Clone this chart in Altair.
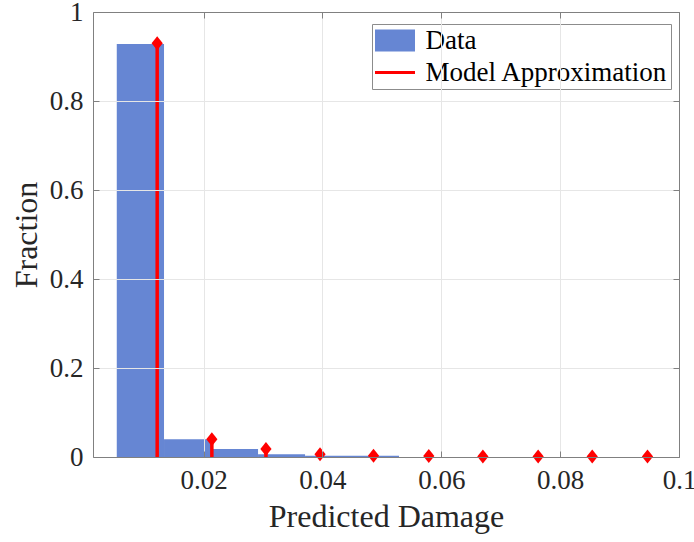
import altair as alt
import pandas as pd

# ---- data ----
bin_start = [0.0054, 0.01335, 0.02126, 0.02917, 0.03708, 0.04498]
bin_end = [0.01335, 0.02126, 0.02917, 0.03708, 0.04498, 0.05289]
bin_fraction = [0.928, 0.040, 0.018, 0.006, 0.003, 0.003]

model_x = [0.0122, 0.0214, 0.0305, 0.0396, 0.0486, 0.0579, 0.0670, 0.0763, 0.0854, 0.0947]
model_y = [0.930, 0.040, 0.018, 0.006, 0.003, 0.002, 0.001, 0.001, 0.001, 0.001]

x_ticks = [0.02, 0.04, 0.06, 0.08, 0.1]
y_ticks = [0, 0.2, 0.4, 0.6, 0.8, 1]
series_names = ["Data", "Model Approximation"]
series_colors = ["#6686D3", "#FF0000"]

bars = pd.DataFrame({"x0": bin_start, "x1": bin_end, "frac": bin_fraction,
                     "series": ["Data"] * len(bin_start)})
model = pd.DataFrame({"x": model_x, "y": model_y})

FONT = "Liberation Serif"
AX = "#808080"
TXT = "#262626"
GRID = "#e6e6e6"

x_scale = alt.Scale(domain=[0.0014, 0.1], nice=False, zero=False)
y_scale = alt.Scale(domain=[0, 1], nice=False, zero=False)

common_axis = dict(
    labelFont=FONT, labelFontSize=27, labelColor=TXT,
    titleFont=FONT, titleFontSize=32, titleFontWeight="normal", titleColor=TXT,
    domainColor=AX, domainWidth=1, tickColor=AX, tickWidth=1,
    tickSize={"expr": "-6"}, gridColor=GRID, gridWidth=1,
    labelFlush=False, labelOverlap=False,
)

x_bottom = alt.Axis(orient="bottom", values=x_ticks, format=".2~f", title="Predicted Damage",
                    grid=True, labelPadding=16, titlePadding=8, zindex=1, **common_axis)
y_left = alt.Axis(orient="left", values=y_ticks, format="~g", title="Fraction",
                  grid=True, labelPadding=16, titlePadding=6, zindex=1, **common_axis)
x_top = alt.Axis(orient="top", values=x_ticks, labels=False, title=None, grid=False, zindex=1,
                 **common_axis)
y_right = alt.Axis(orient="right", values=y_ticks, labels=False, title=None, grid=False, zindex=1,
                   **common_axis)

legend = alt.Legend(
    title=None, orient="none", legendX=279, legendY=12,
    labelFont=FONT, labelFontSize=27, labelColor="black", labelLimit=400,
    symbolType={"expr": "datum.value === 'Data' ? 'M-2,-1.1H2V1.1H-2Z' : 'M-2,-0.15H2V0.15H-2Z'"},
    symbolSize=400, symbolStrokeWidth=0, symbolOffset=6.5, labelOffset=17,
    rowPadding=4, padding=3, fillColor="white", strokeColor="#8c8c8c", symbolOpacity=1,
)

bar_layer = alt.Chart(bars).mark_bar(opacity=1).encode(
    x=alt.X("x0:Q", scale=x_scale, axis=x_bottom),
    x2="x1:Q",
    y=alt.Y("frac:Q", scale=y_scale, axis=y_left),
    y2=alt.datum(0),
    color=alt.Color("series:N", scale=alt.Scale(domain=series_names, range=series_colors),
                    legend=legend),
)

stem_layer = alt.Chart(model).mark_rule(color="#FF0000", strokeWidth=3.5).encode(
    x=alt.X("x:Q", scale=x_scale, axis=None),
    y=alt.Y("y:Q", scale=y_scale, axis=None),
    y2=alt.datum(0),
)

point_layer = alt.Chart(model).mark_point(
    shape="M-0.8,0L0,-1L0.8,0L0,1Z", filled=True, color="#FF0000", size=196, opacity=1
).encode(
    x=alt.X("x:Q", scale=x_scale, axis=x_top),
    y=alt.Y("y:Q", scale=y_scale, axis=y_right),
)

chart = alt.layer(bar_layer, stem_layer, point_layer).resolve_axis(
    x="independent", y="independent"
).properties(
    width=586, height=445,
    autosize=alt.AutoSizeParams(type="none"),
    padding={"left": 93, "top": 12, "right": 15, "bottom": 85},
    background="white",
).configure_view(stroke=None)

chart.save("out.html", embed_options={"renderer": "svg", "actions": False})
